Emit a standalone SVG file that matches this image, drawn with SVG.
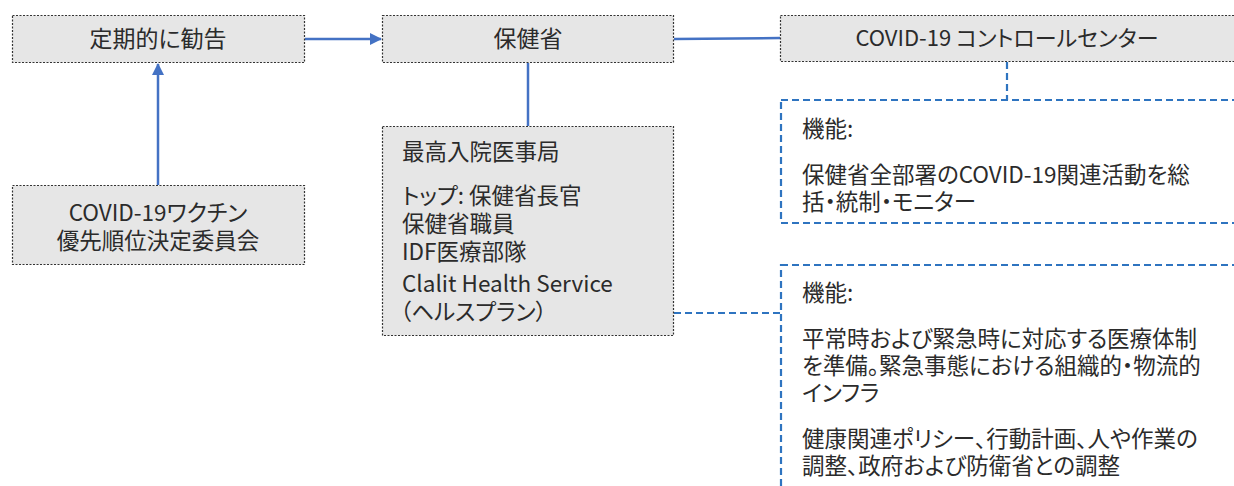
<svg xmlns="http://www.w3.org/2000/svg" width="1234" height="486" viewBox="0 0 1234 486">
<style>
.box{fill:#e6e6e6;stroke:#333;stroke-width:1.2;stroke-dasharray:2,1.5}
.fbox{fill:#fff;stroke:#2E74C0;stroke-width:2.2;stroke-dasharray:7,4}
.t{font-family:"Noto Sans CJK JP","Noto Sans",sans-serif;font-size:22.5px;fill:#2b2b2b;font-feature-settings:"palt"}
.c{text-anchor:middle}
.solid{stroke:#4472C4;stroke-width:2.5;fill:none}
.dash{stroke:#2E74C0;stroke-width:2.2;stroke-dasharray:7,4;fill:none}
</style>
<defs>
<marker id="ah" markerWidth="12" markerHeight="12" refX="11" refY="6" orient="auto" markerUnits="userSpaceOnUse">
<path d="M0,0 L12,6 L0,12 Z" fill="#4472C4"/>
</marker>
</defs>
<g id="connectors">
<line class="solid" x1="305" y1="39" x2="381" y2="39" marker-end="url(#ah)"/>
<line class="solid" x1="158" y1="185" x2="158" y2="64" marker-end="url(#ah)"/>
<line class="solid" x1="674" y1="39" x2="780" y2="38"/>
<line class="solid" x1="528" y1="63" x2="528" y2="126"/>
<line class="dash" x1="1007" y1="62" x2="1007" y2="100"/>
<line class="dash" x1="674" y1="313" x2="780" y2="313"/>
</g>
<g id="n-recommend">
<rect class="box" x="12.5" y="15.5" width="292" height="47"/>
<text class="t c" x="158" y="47" style="font-size:23px">定期的に勧告</text>
</g>
<g id="n-moh">
<rect class="box" x="382.5" y="15.5" width="291" height="47"/>
<text class="t c" x="528" y="47" style="font-size:23px">保健省</text>
</g>
<g id="n-control">
<rect class="box" x="780.5" y="15.5" width="470" height="46"/>
<text class="t c" x="1007" y="46" style="font-size:22px">COVID-19 コントロールセンター</text>
</g>
<g id="n-control-func">
<rect class="fbox" x="781" y="100" width="470" height="123"/>
<text class="t" x="802" y="137">機能:</text>
<text class="t" x="802" y="183">保健省全部署のCOVID-19関連活動を総</text>
<text class="t" x="802" y="210">括・統制・モニター</text>
</g>
<g id="n-vaccine">
<rect class="box" x="12.5" y="185.5" width="292" height="79"/>
<text class="t c" x="158" y="221">COVID-19ワクチン</text>
<text class="t c" x="158" y="249">優先順位決定委員会</text>
</g>
<g id="n-hospital">
<rect class="box" x="382.5" y="126.5" width="291" height="209"/>
<text class="t" x="402" y="160">最高入院医事局</text>
<text class="t" x="402" y="204">トップ: 保健省長官</text>
<text class="t" x="402" y="232">保健省職員</text>
<text class="t" x="402" y="260">IDF医療部隊</text>
<text class="t" x="402" y="292">Clalit Health Service</text>
<text class="t" x="400" y="320">（ヘルスプラン）</text>
</g>
<g id="n-hospital-func">
<rect class="fbox" x="781" y="265" width="470" height="240"/>
<text class="t" x="802" y="301">機能:</text>
<text class="t" x="802" y="347">平常時および緊急時に対応する医療体制</text>
<text class="t" x="802" y="374">を準備。緊急事態における組織的・物流的</text>
<text class="t" x="802" y="401">インフラ</text>
<text class="t" x="802" y="447">健康関連ポリシー、行動計画、人や作業の</text>
<text class="t" x="802" y="474">調整、政府および防衛省との調整</text>
</g>
</svg>
